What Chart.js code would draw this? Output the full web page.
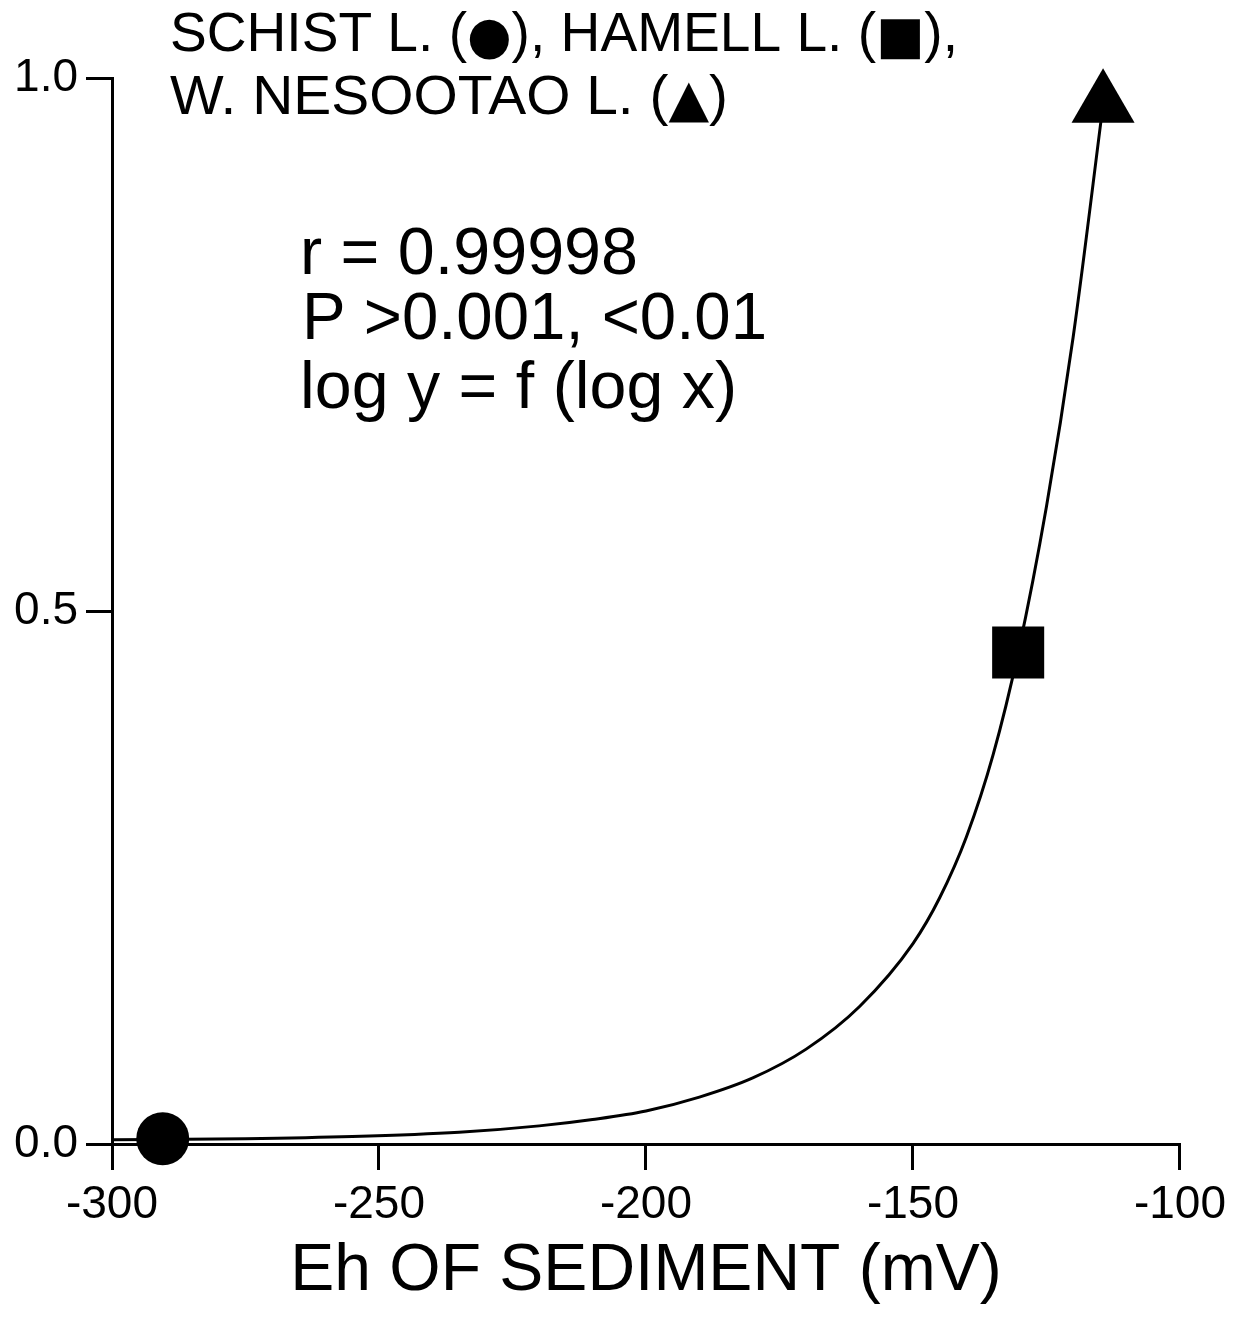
<!DOCTYPE html>
<html>
<head>
<meta charset="utf-8">
<title>Eh of sediment</title>
<script src="https://cdn.jsdelivr.net/npm/chart.js@4.4.1/dist/chart.umd.min.js"></script>
<style>
  html, body { margin: 0; padding: 0; background: #fff; }
  canvas { display: block; }
</style>
</head>
<body>
<canvas id="ehChart" width="1234" height="1326"></canvas>
<script>
// lake means: Eh of sediment (mV) vs. y
const lakeNames = ['SCHIST L.', 'HAMELL L.', 'W. NESOOTAO L.'];
const lakeEh = [-290.5, -130.3, -114.4];
const lakeY = [0.005, 0.461, 0.975];
const lakeStyles = ['circle', 'rect', 'triangle'];
const lakeSizes = [26.5, 36.8, 36.4];
const lakeSymbols = ['\u25CF', '\u25A0', '\u25B2'];

// fitted curve, log y = f(log x)
const fitEh = [-300, -275, -255, -235, -220, -210, -200, -190, -180, -170,
  -160, -150, -145, -140, -135, -130.3, -125, -120, -114.4];
const fitY = [0.004, 0.005, 0.007, 0.011, 0.017, 0.023, 0.031, 0.044, 0.062, 0.089,
  0.129, 0.188, 0.231, 0.288, 0.365, 0.461, 0.598, 0.757, 0.975];

const xTicks = [-300, -250, -200, -150, -100];
const yTicks = [0.0, 0.5, 1.0];
const xTitle = 'Eh OF SEDIMENT (mV)';
const statLines = ['r = 0.99998', 'P >0.001, <0.01', 'log y = f (log x)'];

const FONT = "'Liberation Sans', Arial, Helvetica, sans-serif";
const SYM_FONT = "'DejaVu Sans', sans-serif";

// key text: names in plain font, symbols in a font with larger shapes
const keyRows = [
  [lakeNames[0] + ' (', lakeSymbols[0], '), ' + lakeNames[1] + ' (', lakeSymbols[1], '),'],
  [lakeNames[2] + ' (', lakeSymbols[2], ')']
];

// draw a line of text squeezed/stretched to a given width
function fitText(ctx, text, x, y, width) {
  const w = ctx.measureText(text).width;
  ctx.save();
  ctx.translate(x, y);
  ctx.scale(width / w, 1);
  ctx.fillText(text, 0, 0);
  ctx.restore();
}

// same, for a row made of text pieces and symbols (odd items)
function fitRow(ctx, parts, x, y, width, size, symSize) {
  const fonts = parts.map((p, i) => i % 2 ? symSize + 'px ' + SYM_FONT : size + 'px ' + FONT);
  const widths = parts.map((p, i) => { ctx.font = fonts[i]; return ctx.measureText(p).width; });
  const total = widths.reduce((a, b) => a + b, 0);
  ctx.save();
  ctx.translate(x, y);
  ctx.scale(width / total, 1);
  let cx = 0;
  parts.forEach((p, i) => {
    ctx.font = fonts[i];
    ctx.fillText(p, cx, i % 2 ? 2 : 0);
    cx += widths[i];
  });
  ctx.restore();
}

const notes = {
  id: 'notes',
  afterDraw(chart) {
    const ctx = chart.ctx;
    ctx.save();
    ctx.fillStyle = '#000';
    ctx.textAlign = 'left';
    ctx.textBaseline = 'alphabetic';

    fitRow(ctx, keyRows[0], 170, 51, 788, 56, 52);
    fitRow(ctx, keyRows[1], 170, 114, 558, 56, 52);

    ctx.font = '66px ' + FONT;
    fitText(ctx, statLines[0], 300, 274, 338);
    fitText(ctx, statLines[1], 302, 339, 465);
    fitText(ctx, statLines[2], 300, 408, 437);
    ctx.restore();
  }
};

const markerSets = lakeNames.map((name, i) => ({
  label: name,
  data: [{ x: lakeEh[i], y: lakeY[i] }],
  pointStyle: lakeStyles[i],
  pointRadius: lakeSizes[i],
  backgroundColor: '#000',
  borderColor: '#000',
  borderWidth: 0,
  showLine: false,
  clip: false,
  order: 0
}));

const axisGrid = {
  drawOnChartArea: false,
  drawTicks: true,
  tickLength: 26,
  color: '#000',
  lineWidth: 3
};

new Chart(document.getElementById('ehChart'), {
  type: 'scatter',
  data: {
    datasets: [
      {
        label: 'fit',
        data: fitEh.map((x, i) => ({ x: x, y: fitY[i] })),
        showLine: true,
        pointRadius: 0,
        borderColor: '#000',
        borderWidth: 3,
        cubicInterpolationMode: 'monotone',
        clip: false,
        order: 1
      },
      ...markerSets
    ]
  },
  options: {
    responsive: false,
    animation: false,
    devicePixelRatio: 1,
    layout: { padding: { top: 78, right: 50, bottom: 0, left: 0 } },
    plugins: {
      legend: { display: false },
      tooltip: { enabled: false }
    },
    scales: {
      x: {
        type: 'linear',
        position: 'bottom',
        min: xTicks[0],
        max: xTicks[xTicks.length - 1],
        afterBuildTicks: s => { s.ticks = xTicks.map(v => ({ value: v })); },
        afterFit: s => { s.height = 182; },
        grid: axisGrid,
        border: { display: true, color: '#000', width: 3 },
        ticks: {
          color: '#000',
          font: { family: FONT, size: 46 },
          padding: 8,
          maxRotation: 0,
          callback: v => String(v)
        },
        title: {
          display: true,
          text: xTitle,
          color: '#000',
          font: { family: FONT, size: 66 },
          padding: { top: 0, bottom: 15 }
        }
      },
      y: {
        type: 'linear',
        min: yTicks[0],
        max: yTicks[yTicks.length - 1],
        afterBuildTicks: s => { s.ticks = yTicks.map(v => ({ value: v })); },
        afterFit: s => { s.width = 112; },
        grid: axisGrid,
        border: { display: true, color: '#000', width: 3 },
        ticks: {
          color: '#000',
          font: { family: FONT, size: 46 },
          padding: 8,
          callback: v => Number(v).toFixed(1)
        }
      }
    }
  },
  plugins: [notes]
});
</script>
</body>
</html>
